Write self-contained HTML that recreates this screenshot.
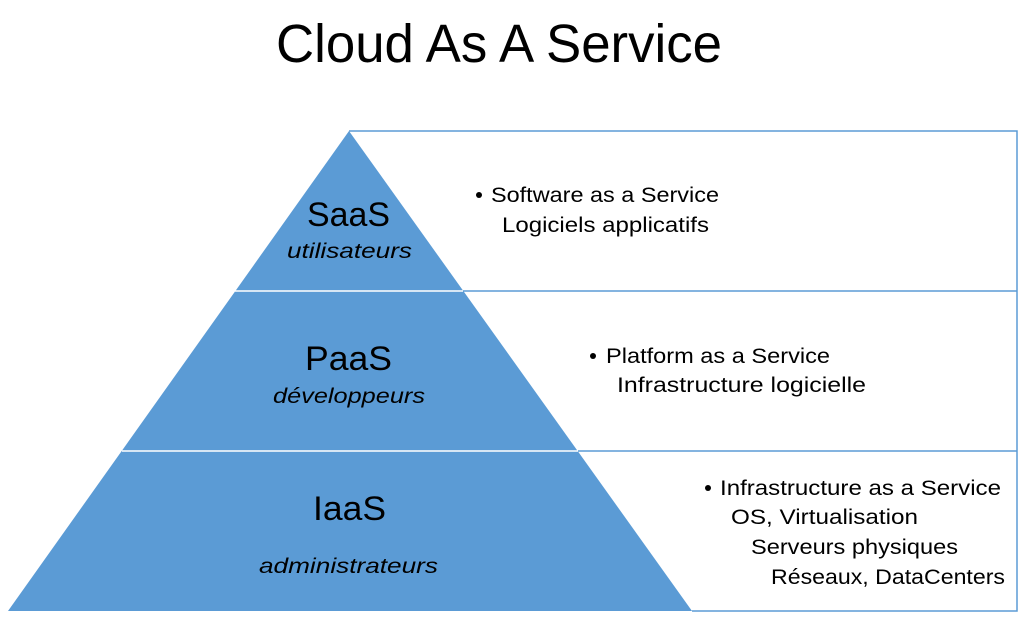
<!DOCTYPE html>
<html><head><meta charset="utf-8"><style>html,body{margin:0;padding:0;background:#fff}svg{display:block}</style></head>
<body>
<svg width="1024" height="617" viewBox="0 0 1024 617" xmlns="http://www.w3.org/2000/svg" font-family="Liberation Sans, sans-serif">
<rect width="1024" height="617" fill="#fff"/>
<text x="276" y="62" font-size="54" textLength="446" lengthAdjust="spacingAndGlyphs" fill="#000">Cloud As A Service</text>
<g stroke="#5b9bd5" stroke-width="1.5" fill="none">
<polyline points="349,131 1017,131 1017,611 692,611"/>
<line x1="463" y1="291" x2="1017" y2="291"/>
<line x1="578" y1="451" x2="1017" y2="451"/>
</g>
<polygon points="349,131 692,611 8,611" fill="#5b9bd5"/>
<line x1="235" y1="291" x2="463" y2="291" stroke="#fff" stroke-width="1.5"/>
<line x1="122" y1="451" x2="578" y2="451" stroke="#fff" stroke-width="1.5"/>
<g fill="#000">
<text x="307" y="226" font-size="34" textLength="83" lengthAdjust="spacingAndGlyphs">SaaS</text>
<text x="287" y="258" font-size="21" font-style="italic" textLength="125" lengthAdjust="spacingAndGlyphs">utilisateurs</text>
<text x="305" y="370" font-size="34" textLength="87" lengthAdjust="spacingAndGlyphs">PaaS</text>
<text x="273" y="403" font-size="21" font-style="italic" textLength="152" lengthAdjust="spacingAndGlyphs">développeurs</text>
<text x="313" y="520" font-size="34" textLength="73" lengthAdjust="spacingAndGlyphs">IaaS</text>
<text x="259" y="573" font-size="21" font-style="italic" textLength="179" lengthAdjust="spacingAndGlyphs">administrateurs</text>
<g font-size="21">
<circle cx="479" cy="195" r="3"/>
<text x="491" y="202" textLength="228" lengthAdjust="spacingAndGlyphs">Software as a Service</text>
<text x="502" y="232" textLength="207" lengthAdjust="spacingAndGlyphs">Logiciels applicatifs</text>
<circle cx="593" cy="356" r="3"/>
<text x="606" y="363" textLength="224" lengthAdjust="spacingAndGlyphs">Platform as a Service</text>
<text x="617" y="392" textLength="249" lengthAdjust="spacingAndGlyphs">Infrastructure logicielle</text>
<circle cx="708" cy="488" r="3"/>
<text x="720" y="495" textLength="281" lengthAdjust="spacingAndGlyphs">Infrastructure as a Service</text>
<text x="731" y="524" textLength="187" lengthAdjust="spacingAndGlyphs">OS, Virtualisation</text>
<text x="751" y="554" textLength="207" lengthAdjust="spacingAndGlyphs">Serveurs physiques</text>
<text x="771" y="584" textLength="234" lengthAdjust="spacingAndGlyphs">Réseaux, DataCenters</text>
</g>
</g>
</svg>
</body></html>
